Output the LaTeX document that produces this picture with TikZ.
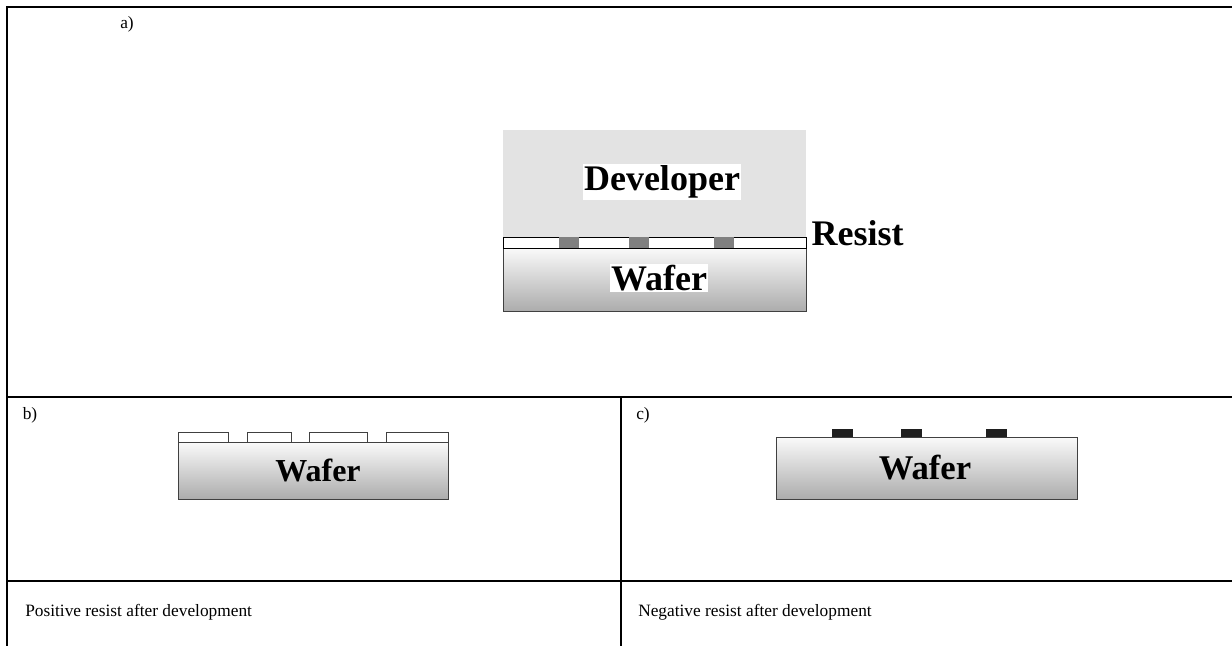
\documentclass[tikz,border=0pt]{standalone}
\usepackage{fontspec}
\setmainfont{Liberation Serif}

\begin{document}
\begin{tikzpicture}[x=0.75pt, y=-0.75pt,
  rule/.style={line width=1.5pt},
  wafer/.style={draw=black!75, top color=gray!4, bottom color=gray!65},
  lbl/.style={font=\fontsize{13}{15}\selectfont, inner sep=0pt},
  big/.style={font=\fontsize{27}{30}\selectfont\bfseries, inner sep=1pt}]
\useasboundingbox (0,0) rectangle (1232,646);

% table frame
\draw [rule] (1232,7) -- (7,7) -- (7,646);
\draw [rule] (7,397) -- (1232,397);
\draw [rule] (7,581) -- (1232,581);
\draw [rule] (621,397) -- (621,646);

\node [lbl] (La) at (127,24) {a)};
\node [lbl] (Lb) at (30,415) {b)};
\node [lbl] (Lc) at (643,415) {c)};
\node [lbl, anchor=west] (Cb) at (25,612) {Positive resist after development};
\node [lbl, anchor=west] (Cc) at (638,612) {Negative resist after development};

% a) exposure in developer
\fill [black!11] (503,130) rectangle (806,237);
\shade [wafer] (503,248) rectangle (806,311);
\draw [fill=white] (503,237) rectangle (806,248);
\foreach \x in {559,629,714}
  \fill [gray] (\x,237) rectangle ++(20,11);
\node [big, fill=white] (Dev) at (662,182) {Developer};
\node [big, fill=white] (Wa) at (659,278) {Wafer};
\node [big, anchor=west] (Res) at (810,233) {Resist};

% b) positive resist
\shade [wafer] (178,442) rectangle (448,499);
\foreach \a/\b in {178/228, 247/291, 309/367, 386/448}
  \draw [draw=black!75, fill=white] (\a,432) rectangle (\b,442);
\node [big, font=\fontsize{24}{27}\selectfont\bfseries] (Wb) at (318,470) {Wafer};

% c) negative resist
\shade [wafer] (776,437) rectangle (1077,499);
\foreach \x in {832,901,986}
  \fill [black!88] (\x,429) rectangle ++(21,8);
\node [big, font=\fontsize{26}{29}\selectfont\bfseries] (Wc) at (925,468) {Wafer};
\end{tikzpicture}
\end{document}
